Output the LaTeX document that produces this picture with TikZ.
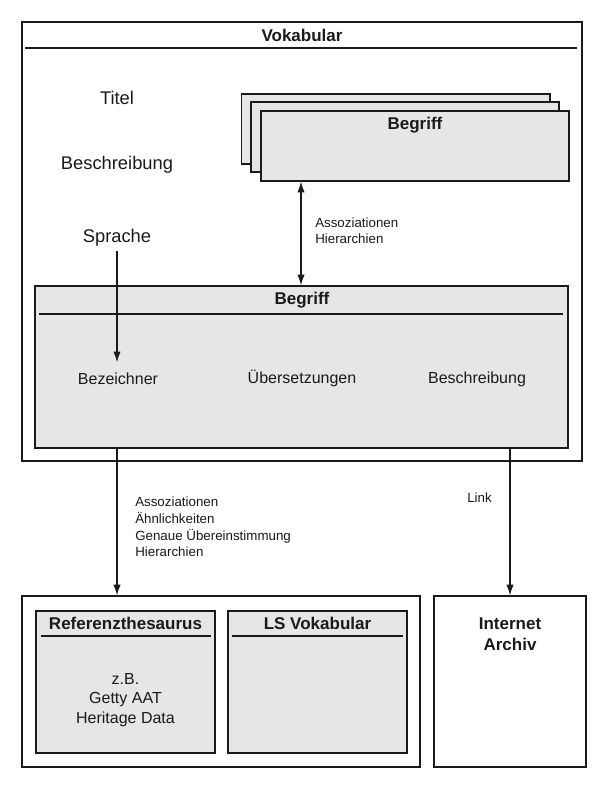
\documentclass[tikz,border=0pt]{standalone}
\usepackage{fontspec}
\setmainfont{Liberation Sans}
\usetikzlibrary{fit,arrows.meta}
\definecolor{boxfill}{HTML}{E6E6E6}
\definecolor{ink}{HTML}{1A1A1A}
\begin{document}
\begin{tikzpicture}[x=0.75pt,y=-0.75pt,
  box/.style={draw=ink,line width=1.1pt,inner sep=0pt},
  gbox/.style={box,fill=boxfill},
  titlerule/.style={draw=ink,line width=0.8pt},
  ttl/.style={font=\bfseries\fontsize{12.75pt}{15.75pt}\selectfont,align=center,inner sep=0pt,text=ink},
  lbl/.style={font=\fontsize{12pt}{14.6pt}\selectfont,align=center,inner sep=0pt,text=ink},
  biglbl/.style={font=\fontsize{13.75pt}{16pt}\selectfont,align=center,inner sep=0pt,text=ink},
  sml/.style={font=\fontsize{10pt}{12.4pt}\selectfont,align=left,inner sep=0pt,text=ink},
  arr/.style={draw=ink,line width=0.8pt,-{Latex[length=8pt,width=5.5pt]}},
  darr/.style={draw=ink,line width=0.8pt,{Latex[length=8pt,width=5.5pt]}-{Latex[length=8pt,width=5.5pt]}}]
\useasboundingbox (0,0) rectangle (600,793);
\fill[white] (0,0) rectangle (600,793);
% Vokabular container
\node[box,fit={(22,22)(582,461)}] (vok) {};
\node[ttl] (voktitle) at (302,35) {Vokabular};
\draw[titlerule] (25,48) -- (577,48);
% left labels
\node[biglbl] (titel) at (117,98) {Titel};
\node[biglbl] (beschr) at (117,165) {Beschreibung};
\node[biglbl] (spr) at (117,238) {Sprache};
% stacked Begriff boxes
\node[gbox,fit={(241.5,94)(550,164)}] (b3) {};
\node[gbox,fit={(251,102)(559,172)}] (b2) {};
\node[gbox,fit={(261,111)(569,181)}] (b1) {};
\node[ttl] (b1t) at (415,125) {Begriff};
% big Begriff box
\node[gbox,fit={(35,286)(568,448)}] (bb) {};
\node[ttl] (bbt) at (302,300) {Begriff};
\draw[titlerule] (39,314) -- (563,314);
\node[lbl] (bez) at (118,379) {Bezeichner};
\node[lbl] (ueb) at (302,378) {Übersetzungen};
\node[lbl] (bbeschr) at (477,379) {Beschreibung};
% association label
\coordinate (ax) at (301,0);
\draw[darr] (b1.south -| ax) -- (bb.north -| ax);
\node[sml,anchor=west] (lab1) at (315,230.5) {Assoziationen\\Hierarchien};
% Sprache arrow
\coordinate (lx) at (117,0);
\draw[arr,shorten <=3pt,shorten >=8pt] (spr.south -| lx) -- (bez.north -| lx);
% bottom containers
\node[box,fit={(22,596)(420,767)}] (ext) {};
\node[gbox,fit={(36,611)(215,753)}] (ref) {};
\node[ttl] (reft) at (125.5,623) {Referenzthesaurus};
\draw[titlerule] (41,636) -- (211,636);
\node[lbl] (reftxt) at (125.5,700) {z.B.\\Getty AAT\\Heritage Data};
\node[gbox,fit={(228,611)(407,753)}] (ls) {};
\node[ttl] (lst) at (317.5,623) {LS Vokabular};
\draw[titlerule] (232,636) -- (403,636);
\node[box,fit={(434,596)(586,767)}] (ia) {};
\node[ttl] (iat) at (510,634) {Internet\\Archiv};
% lower arrows
\draw[arr] (bb.south -| lx) -- (ext.north -| lx);
\draw[arr] (bb.south -| ia.north) -- (ia.north);
\node[sml,anchor=west] (lab2) at (135,527) {Assoziationen\\Ähnlichkeiten\\Genaue Übereinstimmung\\Hierarchien};
\node[sml,anchor=east] (link) at (492,498) {Link};
\end{tikzpicture}
\end{document}
